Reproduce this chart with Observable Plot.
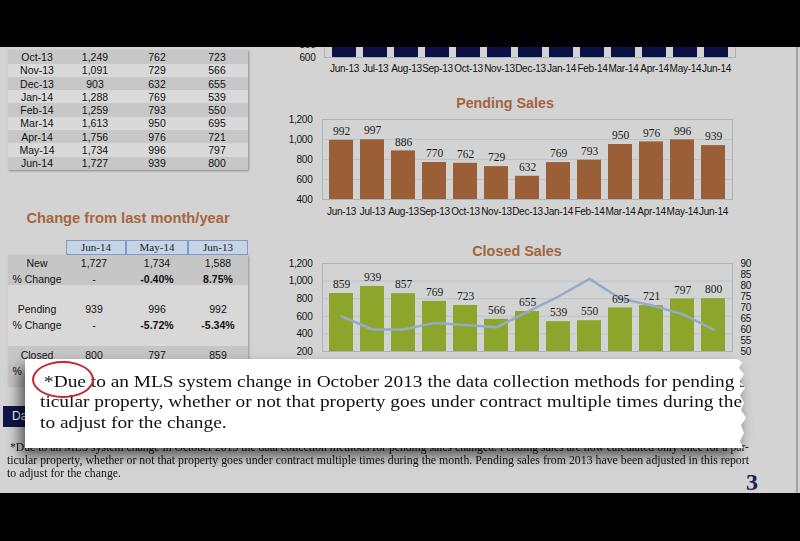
<!DOCTYPE html>
<html><head><meta charset="utf-8">
<script src="https://cdn.jsdelivr.net/npm/d3@7"></script>
<script src="https://cdn.jsdelivr.net/npm/@observablehq/plot@0.6"></script>
<style>
html,body{margin:0;padding:0;}
body{width:800px;height:541px;overflow:hidden;position:relative;background:#d3d3d3;font-family:"Liberation Sans",Arial,sans-serif;color:#111;}
.abs{position:absolute;}
.band{position:absolute;left:0;width:800px;background:#000;z-index:50;}
.chart{position:absolute;z-index:2;}
.chart svg{overflow:visible;display:block;}
.chart svg g[aria-label$="tick label"] text{letter-spacing:-0.25px;}
.cell{position:absolute;transform:translate(-50%,-50%);white-space:nowrap;font-size:10.5px;line-height:13px;}
.title{position:absolute;font-weight:bold;white-space:nowrap;transform:translate(-50%,-50%);}
.hdr{position:absolute;top:0;height:15px;box-sizing:border-box;background:#c6d4e6;border:1px solid #7d9cc6;font-family:"Liberation Serif",serif;font-size:11px;line-height:13px;text-align:center;color:#222;}
.line{position:absolute;white-space:nowrap;transform-origin:0 0;}
</style></head><body>
<script>
// ---------- data ----------
const months = ["Jun-13","Jul-13","Aug-13","Sep-13","Oct-13","Nov-13","Dec-13","Jan-14","Feb-14","Mar-14","Apr-14","May-14","Jun-14"];
const newListings = [1588, 1530, 1470, 1360, 1249, 1091, 903, 1288, 1259, 1613, 1756, 1734, 1727];
const pendingSales = [992, 997, 886, 770, 762, 729, 632, 769, 793, 950, 976, 996, 939];
const closedSales = [859, 939, 857, 769, 723, 566, 655, 539, 550, 695, 721, 797, 800];
const closedSecondary = [66, 60, 60, 63, 62, 61, 68, 75, 83, 74, 71, 67, 60];
const newTicks = [600, 800];
const pendingTicks = [400, 600, 800, 1000, 1200];
const closedTicks = [200, 400, 600, 800, 1000, 1200];
const rightTicks = [50, 55, 60, 65, 70, 75, 80, 85, 90];
const tableMonths = ["Oct-13","Nov-13","Dec-13","Jan-14","Feb-14","Mar-14","Apr-14","May-14","Jun-14"];
const tableNew = ["1,249","1,091","903","1,288","1,259","1,613","1,756","1,734","1,727"];
const tablePending = ["762","729","632","769","793","950","976","996","939"];
const tableClosed = ["723","566","655","539","550","695","721","797","800"];
const changeHeaders = ["Jun-14","May-14","Jun-13"];
const changeLabels = ["New","% Change","Pending","% Change","Closed","% Change"];
const changeCurrent = ["1,727","-","939","-","800",""];
const changeMonth = ["1,734","-0.40%","996","-5.72%","797",""];
const changeYear = ["1,588","8.75%","992","-5.34%","859",""];
const footLines = [
  "*Due to an MLS system change in October 2013 the data collection methods for pending sales changed. Pending sales are now calculated only once for a par-",
  "ticular property, whether or not that property goes under contract multiple times during the month. Pending sales from 2013 have been adjusted in this report",
  "to adjust for the change."
];

// ---------- helpers ----------
const body = document.body;
function el(tag, cls, style, text) {
  const e = document.createElement(tag);
  if (cls) e.className = cls;
  if (style) Object.assign(e.style, style);
  if (text != null) e.textContent = text;
  return e;
}
function place(node, left, top, z) {
  const w = el("div", "chart", {left: left + "px", top: top + "px", zIndex: z || 2});
  w.appendChild(node);
  body.appendChild(w);
}
const baseStyle = {background: "transparent", fontFamily: "'Liberation Sans', Arial, sans-serif", fontSize: "10px", color: "#111", overflow: "visible"};
const xScale = {domain: months, paddingInner: 0.24, paddingOuter: 0.12, label: null};

function barPlot(o) {
  const data = months.map((m, i) => ({month: m, value: o.values[i]}));
  return Plot.plot({
    width: o.width, height: o.height,
    marginLeft: o.ml, marginRight: o.mr, marginTop: o.mt, marginBottom: o.mb,
    style: baseStyle,
    x: {...xScale},
    y: {domain: o.domain, label: null},
    marks: [
      Plot.gridY(o.ticks, {stroke: "#bcc4cc", strokeOpacity: 1}),
      Plot.barY(data, {x: "month", y1: o.domain[0], y2: "value", fill: o.color}),
      Plot.frame({stroke: "#a9b3be"}),
      Plot.axisY(o.ticks, {anchor: "left", label: null, tickSize: 0, tickPadding: o.yPad, tickFormat: d3.format(","), fontSize: 10}),
      Plot.axisX({anchor: "bottom", label: null, tickSize: 0, tickPadding: o.xPad, fontSize: 10})
    ]
  });
}
function labelPlot(o) {
  const data = months.map((m, i) => ({month: m, value: o.values[i]}));
  return Plot.plot({
    width: o.width, height: o.height,
    marginLeft: o.ml, marginRight: o.mr, marginTop: o.mt, marginBottom: o.mb,
    style: baseStyle,
    x: {...xScale, axis: null},
    y: {domain: o.domain, axis: null, label: null},
    marks: [
      Plot.text(data, {x: "month", y: "value", text: d => String(d.value), dy: -9,
        fontFamily: "'Liberation Serif', serif", fontSize: 11.5, fill: "#1a1a1a"})
    ]
  });
}

// ---------- top (New listings) chart, mostly hidden ----------
place(barPlot({values: newListings, color: "#0c1145", domain: [600, 2000], ticks: newTicks,
  width: 480, height: 110, ml: 54, mr: 15, mt: 10, mb: 13, yPad: 9, xPad: 7}), 270, -40);

// ---------- Pending Sales ----------
body.appendChild(el("div", "title", {left: "505px", top: "103px", fontSize: "14.3px", color: "#a3653d"}, "Pending Sales"));
const pOpts = {values: pendingSales, color: "#9b5f38", domain: [400, 1200], ticks: pendingTicks,
  width: 480, height: 110, ml: 52, mr: 18, mt: 7, mb: 23, yPad: 10, xPad: 8};
place(barPlot(pOpts), 270, 112);
place(labelPlot(pOpts), 270, 112, 3);

// ---------- Closed Sales ----------
body.appendChild(el("div", "title", {left: "517px", top: "251px", fontSize: "14.4px", color: "#a3653d"}, "Closed Sales"));
const cOpts = {values: closedSales, color: "#8ea52b", domain: [200, 1200], ticks: closedTicks,
  width: 500, height: 120, ml: 52, mr: 38, mt: 8, mb: 24, yPad: 10, xPad: 8};
place(barPlot(cOpts), 270, 255);
const lineData = months.map((m, i) => ({month: m, value: closedSecondary[i]}));
place(Plot.plot({
  width: 500, height: 120, marginLeft: 52, marginRight: 38, marginTop: 8, marginBottom: 24,
  style: baseStyle,
  x: {...xScale, axis: null},
  y: {domain: [50, 90], label: null},
  marks: [
    Plot.line(lineData, {x: "month", y: "value", stroke: "#93abc9", strokeWidth: 2.5}),
    Plot.axisY(rightTicks, {anchor: "right", label: null, tickSize: 0, tickPadding: 8, fontSize: 10})
  ]
}), 270, 255, 3);
place(labelPlot(cOpts), 270, 255, 4);

// ---------- top-left table ----------
const t1 = el("div", "abs", {left: "8px", top: "50.3px", width: "240px", height: (tableMonths.length * 13.3) + "px",
  boxShadow: "1px 1px 2px rgba(0,0,0,0.35)", background: "#d8d8d8", zIndex: 1});
tableMonths.forEach((m, i) => {
  const r = el("div", "abs", {left: "0", top: (i * 13.3) + "px", width: "240px", height: "13.3px",
    background: i % 2 === 0 ? "#c7c7c7" : "#d9d9d9"});
  [[29, m], [87, tableNew[i]], [149, tablePending[i]], [209, tableClosed[i]]].forEach(([x, t]) => {
    r.appendChild(el("div", "cell", {left: x + "px", top: "6.65px"}, t));
  });
  t1.appendChild(r);
});
body.appendChild(t1);

// ---------- change table ----------
body.appendChild(el("div", "title", {left: "128px", top: "218px", fontSize: "14.7px", color: "#a6663e"}, "Change from last month/year"));
const hdr = el("div", "abs", {left: "66px", top: "239.5px", width: "182px", height: "15px", zIndex: 2});
[[0, 60], [60, 62], [122, 60]].forEach(([x, w], i) => {
  hdr.appendChild(el("div", "hdr", {left: x + "px", width: w + "px"}, changeHeaders[i]));
});
body.appendChild(hdr);
const t2 = el("div", "abs", {left: "8px", top: "254.5px", width: "240px", height: "130px",
  background: "#d8d8d8", boxShadow: "1px 1px 2px rgba(0,0,0,0.3)", zIndex: 1});
[[0, 30.5, "#c6c6c6"], [30.5, 60.7, "#d8d8d8"], [91.2, 40, "#c6c6c6"]].forEach(([y, h, c]) => {
  t2.appendChild(el("div", "abs", {left: "0", top: y + "px", width: "240px", height: h + "px", background: c}));
});
const rowY = [8.8, 24.8, 54.8, 70.8, 100.5, 116.5];
changeLabels.forEach((lab, i) => {
  const bold = lab.startsWith("%");
  t2.appendChild(el("div", "cell", {left: "29px", top: rowY[i] + "px"}, lab));
  [[86, changeCurrent[i]], [149, changeMonth[i]], [210, changeYear[i]]].forEach(([x, t]) => {
    if (!t) return;
    t2.appendChild(el("div", "cell", {left: x + "px", top: rowY[i] + "px", fontWeight: bold && t !== "-" ? "bold" : "normal"}, t));
  });
});
body.appendChild(t2);

// ---------- navy tab ----------
body.appendChild(el("div", "abs", {left: "3px", top: "406px", width: "34px", height: "21px", background: "#0e1549",
  color: "#fff", fontSize: "12px", lineHeight: "21px", textIndent: "9px", zIndex: 1, overflow: "hidden"}, "Da"));

// ---------- footnote ----------
const ctx = document.createElement("canvas").getContext("2d");
function measure(text, font) { ctx.font = font; return ctx.measureText(text).width; }
const footFont = "12px 'Liberation Serif'";
const fs1 = 739 / measure(footLines[0], footFont);
const fs2 = 742 / measure(footLines[1], footFont);
[[10, 441, fs1], [7, 454, fs2], [7, 467, fs2]].forEach(([x, y, s], i) => {
  body.appendChild(el("div", "line", {left: x + "px", top: y + "px", fontFamily: "'Liberation Serif', serif",
    fontSize: "12px", lineHeight: "13px", transform: `scaleX(${s})`, zIndex: 1, color: "#111"}, footLines[i]));
});

// ---------- page number ----------
body.appendChild(el("div", "title", {left: "752px", top: "482px", fontSize: "24px", color: "#1b2050",
  fontFamily: "'Liberation Serif', serif"}, "3"));

// ---------- callout ----------
const wrap = el("div", "abs", {left: "25px", top: "359px", width: "722px", height: "89px", zIndex: 20,
  filter: "drop-shadow(-5px 8px 7px rgba(0,0,0,0.6))"});
const box = el("div", "abs", {left: "0", top: "0", width: "722px", height: "89px", background: "#fff", overflow: "hidden",
  clipPath: "polygon(0 0, 712px 0, 717px 3px, 714px 9px, 719px 15px, 715px 22px, 720px 29px, 715px 36px, 719px 44px, 716px 51px, 721px 59px, 716px 66px, 719px 74px, 715px 82px, 718px 89px, 0 89px)"});
const cFont = "16px 'Liberation Serif'";
const cs = 702 / measure("ticular property, whether or not that property goes under contract multiple times during the", cFont);
[[19, 12.75], [15, 33.25], [15, 53.75]].forEach(([x, y], i) => {
  box.appendChild(el("div", "line", {left: x + "px", top: y + "px", fontFamily: "'Liberation Serif', serif",
    fontSize: "16px", lineHeight: "20.5px", transform: `scaleX(${cs})`, color: "#111"}, footLines[i]));
});
box.appendChild(el("div", "abs", {left: "7px", top: "2px", width: "62px", height: "37px", border: "2.5px solid #c3262c",
  borderRadius: "50%", boxSizing: "border-box"}));
wrap.appendChild(box);
body.appendChild(wrap);

// ---------- page edge and black bands ----------
body.appendChild(el("div", "abs", {left: "796px", top: "47px", width: "2px", height: "446px", background: "#a2a2a2", zIndex: 5}));
body.appendChild(el("div", "band", {top: "0", height: "47px"}));
body.appendChild(el("div", "band", {top: "493px", height: "48px"}));
</script>
</body></html>
